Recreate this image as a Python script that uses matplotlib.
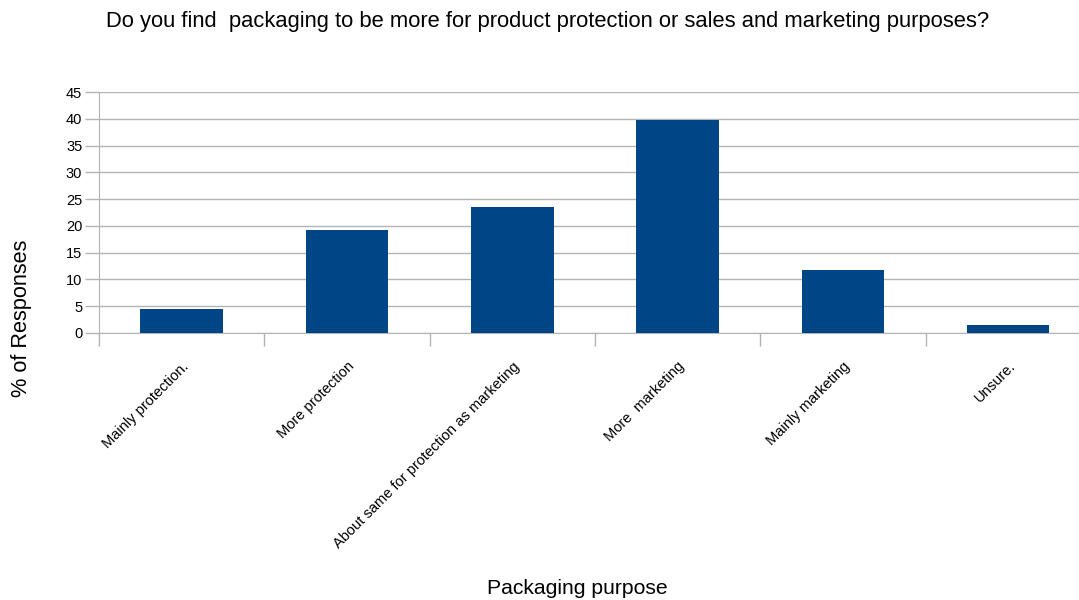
import matplotlib.pyplot as plt
import numpy as np

categories = ["Mainly protection.", "More protection",
              "About same for protection as marketing", "More  marketing",
              "Mainly marketing", "Unsure."]
responses = [4.5, 19.2, 23.5, 39.8, 11.8, 1.5]

plt.rcParams['font.family'] = ['Liberation Sans', 'DejaVu Sans']

W, H = 1079, 600
fig = plt.figure(figsize=(W / 100, H / 100), dpi=100)
ax = fig.add_axes([99 / W, (H - 333) / H, 1 - 99 / W, (333 - 92) / H])

x = np.arange(len(categories))
ax.bar(x, responses, width=0.5, color='#004586', zorder=3)

ax.set_yticks(np.arange(0, 46, 5))
ax.yaxis.grid(True, color='#b3b3b3', linewidth=1, zorder=0)

# tick marks sit on category boundaries, labels at the centres
ax.set_xticks(np.arange(len(categories)) - 0.5)
ax.set_xticklabels([])
ax.set_xticks(x, minor=True)
ax.set_xticklabels(categories, minor=True, rotation=45, ha='right',
                   rotation_mode='anchor', fontsize=10.5)
ax.tick_params(axis='x', which='minor', length=0, pad=19)
ax.tick_params(axis='x', which='major', length=9, color='#b3b3b3', width=1)
ax.tick_params(axis='y', length=10, color='#b3b3b3', width=1, labelsize=10.5, pad=2)

# limits after the ticks, so set_xticks does not widen the view
ax.set_xlim(-0.5, -0.5 + (W - 99) / 165.3)
ax.set_ylim(0, 45)

for side in ['top', 'right']:
    ax.spines[side].set_visible(False)
for side in ['left', 'bottom']:
    ax.spines[side].set_color('#b3b3b3')

fig.text(548 / W, 1 - 22 / H,
         "Do you find  packaging to be more for product protection or sales and marketing purposes?",
         ha='center', va='center', fontsize=15.8)
fig.text(22 / W, 1 - 318 / H, "% of Responses", rotation=90,
         ha='center', va='center', fontsize=15.7)
fig.text(577 / W, 1 - 588 / H, "Packaging purpose",
         ha='center', va='center', fontsize=15.2)

fig.savefig('out.png', dpi=100)
